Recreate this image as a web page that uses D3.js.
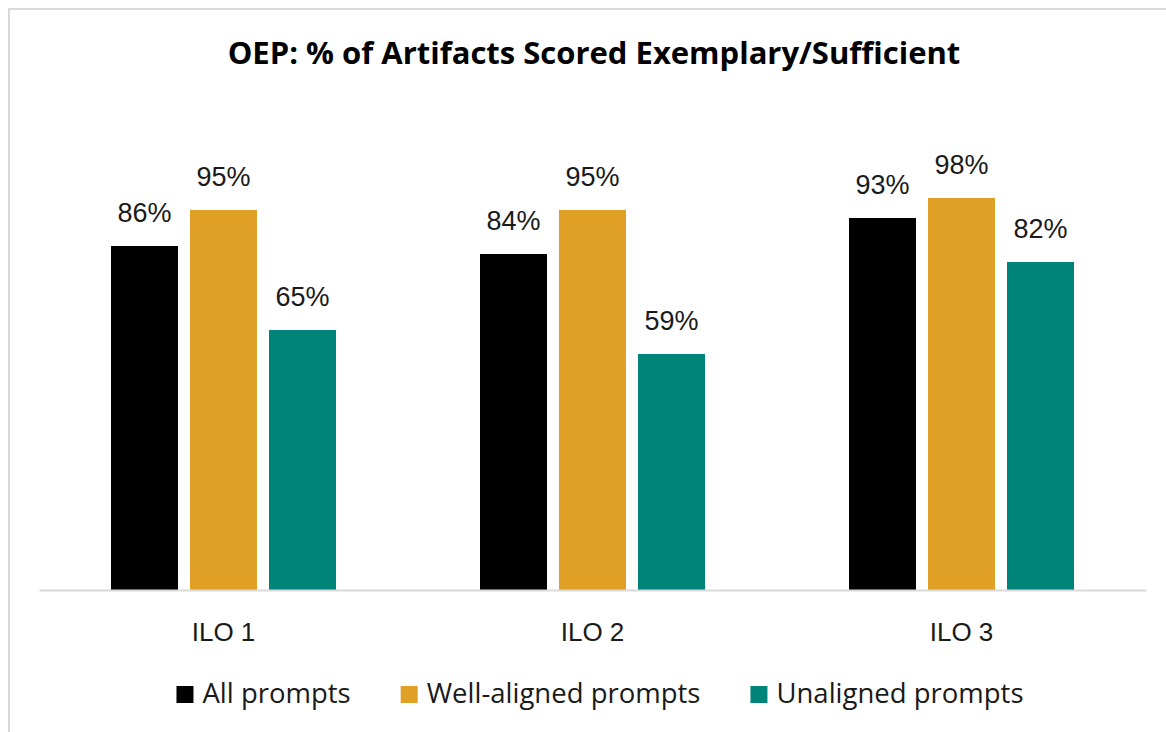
<!DOCTYPE html>
<html>
<head>
<meta charset="utf-8">
<script src="https://cdn.jsdelivr.net/npm/d3@7"></script>
<style>
  html, body { margin: 0; padding: 0; background: #fff; }
  svg { display: block; }
  text { font-family: "Open Sans", "Liberation Sans", sans-serif; fill: #1a1a1a; }
</style>
</head>
<body>
<svg id="chart" width="1166" height="732"></svg>
<script>
const categories = ["ILO 1", "ILO 2", "ILO 3"];
const seriesNames = ["All prompts", "Well-aligned prompts", "Unaligned prompts"];
const allPrompts = [86, 84, 93];
const wellAligned = [95, 95, 98];
const unaligned = [65, 59, 82];
const seriesColors = ["#000000", "#E0A026", "#00847A"];
const titleText = "OEP: % of Artifacts Scored Exemplary/Sufficient";

const seriesValues = [allPrompts, wellAligned, unaligned];
const data = categories.map((c, i) => ({
  category: c,
  values: seriesNames.map((s, j) => ({ series: s, idx: j, value: seriesValues[j][i] }))
}));

const svg = d3.select("#chart");

// outer border (chart area)
svg.append("rect")
  .attr("x", 9).attr("y", 9)
  .attr("width", 1170).attr("height", 740)
  .attr("fill", "#fff")
  .attr("stroke", "#d9d9d9").attr("stroke-width", 2);

const x0 = d3.scaleBand().domain(categories).range([39, 1146]).paddingInner(0).paddingOuter(0);
const groupW = 225;
const x1 = d3.scaleBand().domain(seriesNames)
  .range([(x0.bandwidth() - groupW) / 2, (x0.bandwidth() + groupW) / 2])
  .paddingInner(0.152).paddingOuter(0);
const y = d3.scaleLinear().domain([0, 100]).range([590, 190]);

// title
svg.append("text")
  .attr("x", 594).attr("y", 64)
  .attr("text-anchor", "middle")
  .style("font-size", "31px").style("font-weight", "700")
  .style("fill", "#000")
  .text(titleText);

// bars
const groups = svg.append("g").selectAll("g")
  .data(data).join("g")
  .attr("transform", d => `translate(${x0(d.category)},0)`);

groups.selectAll("rect")
  .data(d => d.values).join("rect")
  .attr("x", d => x1(d.series))
  .attr("y", d => y(d.value))
  .attr("width", x1.bandwidth())
  .attr("height", d => y(0) - y(d.value))
  .attr("fill", d => seriesColors[d.idx]);

groups.selectAll("text.lbl")
  .data(d => d.values).join("text")
  .attr("class", "lbl")
  .attr("x", d => x1(d.series) + x1.bandwidth() / 2)
  .attr("y", d => y(d.value) - 24)
  .attr("text-anchor", "middle")
  .style("font-family", '"Liberation Sans", Arial, sans-serif')
  .style("font-size", "27px")
  .text(d => d.value + "%");

// axis
const xAxis = svg.append("g")
  .attr("transform", `translate(0,${y(0)})`)
  .call(d3.axisBottom(x0).tickSize(0).tickSizeOuter(0));
xAxis.select(".domain").attr("stroke", "#d9d9d9").attr("stroke-width", 2);
xAxis.selectAll(".tick text")
  .attr("y", 51).attr("dy", null)
  .style("font-size", "26px")
  .style("font-family", '"Liberation Sans", Arial, sans-serif')
  .attr("fill", "#1a1a1a");

// legend
const legend = svg.append("g");
const items = legend.selectAll("g").data(seriesNames).join("g");
items.append("rect")
  .attr("width", 17).attr("height", 17)
  .attr("y", 686)
  .attr("fill", (d, i) => seriesColors[i]);
items.append("text")
  .attr("x", 26).attr("y", 703)
  .style("font-size", "27.5px")
  .text(d => d);
const widths = [];
items.each(function () { widths.push(this.getBBox().width); });
const gap = 50;
const total = d3.sum(widths) + gap * (widths.length - 1);
let cx = 600 - total / 2;
items.attr("transform", (d, i) => {
  const t = `translate(${cx},0)`;
  cx += widths[i] + gap;
  return t;
});
</script>
</body>
</html>
